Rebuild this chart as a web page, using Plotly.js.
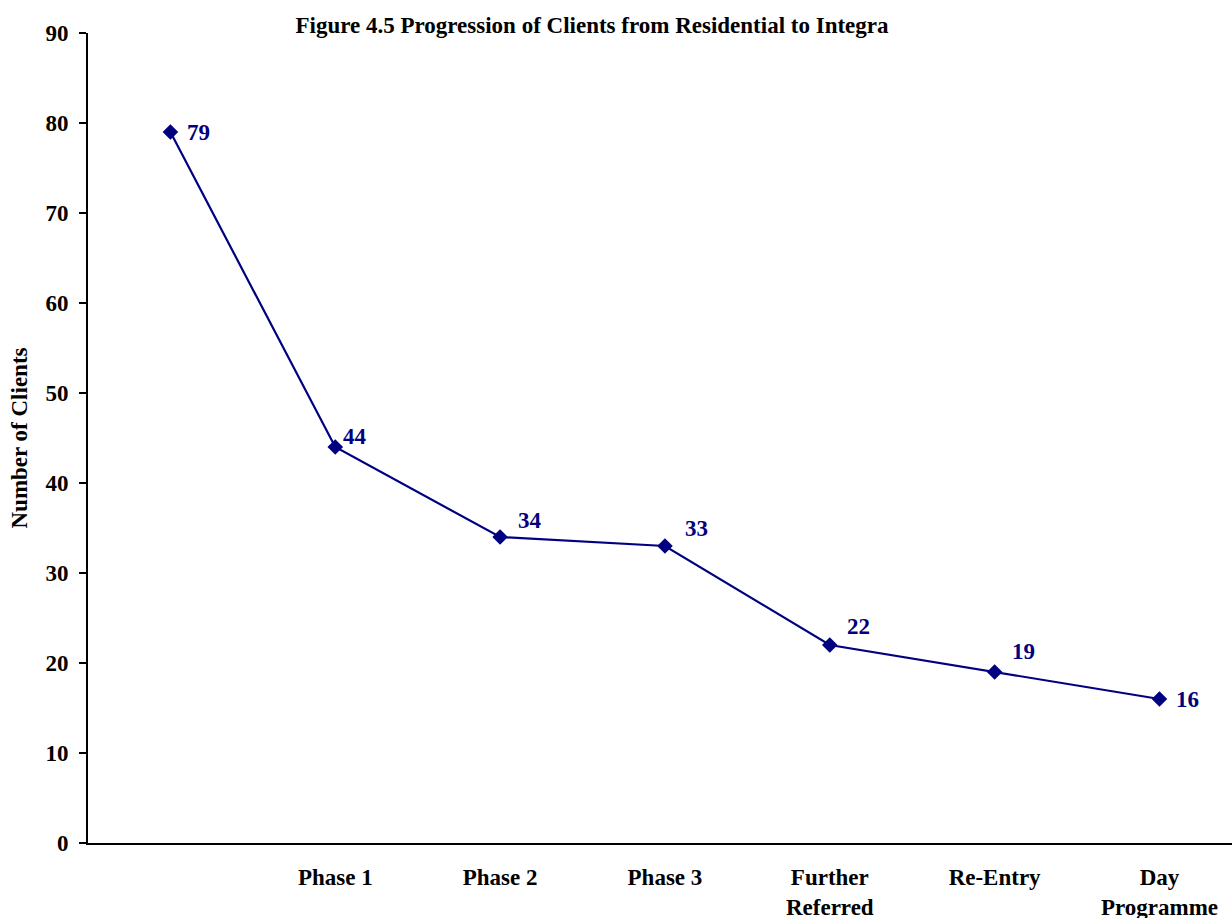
<!DOCTYPE html>
<html><head><meta charset="utf-8">
<script src="https://cdn.plot.ly/plotly-3.0.1.min.js"></script>
<style>html,body{margin:0;padding:0;background:#fff;overflow:hidden}</style>
</head><body><div id="chart" style="width:1232px;height:918px"></div>
<script>
var categories = ["Residential", "Phase 1", "Phase 2", "Phase 3", "Further<br>Referred", "Re-Entry", "Day<br>Programme"];
var tickLabels = ["", "Phase 1", "Phase 2", "Phase 3", "Further<br>Referred", "Re-Entry", "Day<br>Programme"];
var clients = [79, 44, 34, 33, 22, 19, 16];
var labelXShift = [15, 6, 16, 18, 15, 15, 15];
var labelYShift = [0, 11, 17, 18, 19, 21, 0];

var font = "'Liberation Serif', 'Times New Roman', serif";
var navy = "#000080";
var fs = 23;

var annotations = clients.map(function (v, i) {
  return {
    x: categories[i], y: v, xref: "x", yref: "y", text: String(v),
    showarrow: false, xanchor: "left", yanchor: "middle",
    xshift: labelXShift[i], yshift: labelYShift[i],
    font: {family: font, size: fs, color: navy, weight: "bold"}
  };
});

var trace = {
  x: categories, y: clients, type: "scatter", mode: "lines+markers",
  line: {color: navy, width: 2.2},
  marker: {symbol: "diamond", size: 12, color: navy},
  hoverinfo: "x+y"
};

var layout = {
  width: 1232, height: 918,
  margin: {l: 88, r: 0, t: 33, b: 75},
  paper_bgcolor: "#fff", plot_bgcolor: "#fff",
  showlegend: false,
  font: {family: font, size: fs, color: "#000", weight: "bold"},
  title: {text: "<b>Figure 4.5 Progression of Clients from Residential to Integra</b>",
          x: 592 / 1232, xref: "container", xanchor: "center",
          y: 1 - 25 / 918, yref: "container", yanchor: "middle",
          font: {family: font, size: fs, color: "#000"}},
  xaxis: {
    type: "category", range: [-0.5, 6.44],
    tickmode: "array", tickvals: categories, ticktext: tickLabels,
    showline: true, linecolor: "#000", linewidth: 2,
    ticks: "", showgrid: false, zeroline: false,
    tickfont: {family: font, size: fs, color: "#000", weight: "bold"},
    ticklabelstandoff: 12
  },
  yaxis: {
    range: [0, 90], dtick: 10, tick0: 0,
    showline: true, linecolor: "#000", linewidth: 2,
    ticks: "outside", ticklen: 7, tickwidth: 2, tickcolor: "#000",
    showgrid: false, zeroline: false,
    tickfont: {family: font, size: fs, color: "#000", weight: "bold"},
    ticklabelstandoff: 6,
    title: {text: "<b>Number of Clients</b>", standoff: 11,
            font: {family: font, size: fs, color: "#000"}}
  },
  annotations: annotations
};

Plotly.newPlot("chart", [trace], layout, {displayModeBar: false, staticPlot: true});
</script></body></html>
